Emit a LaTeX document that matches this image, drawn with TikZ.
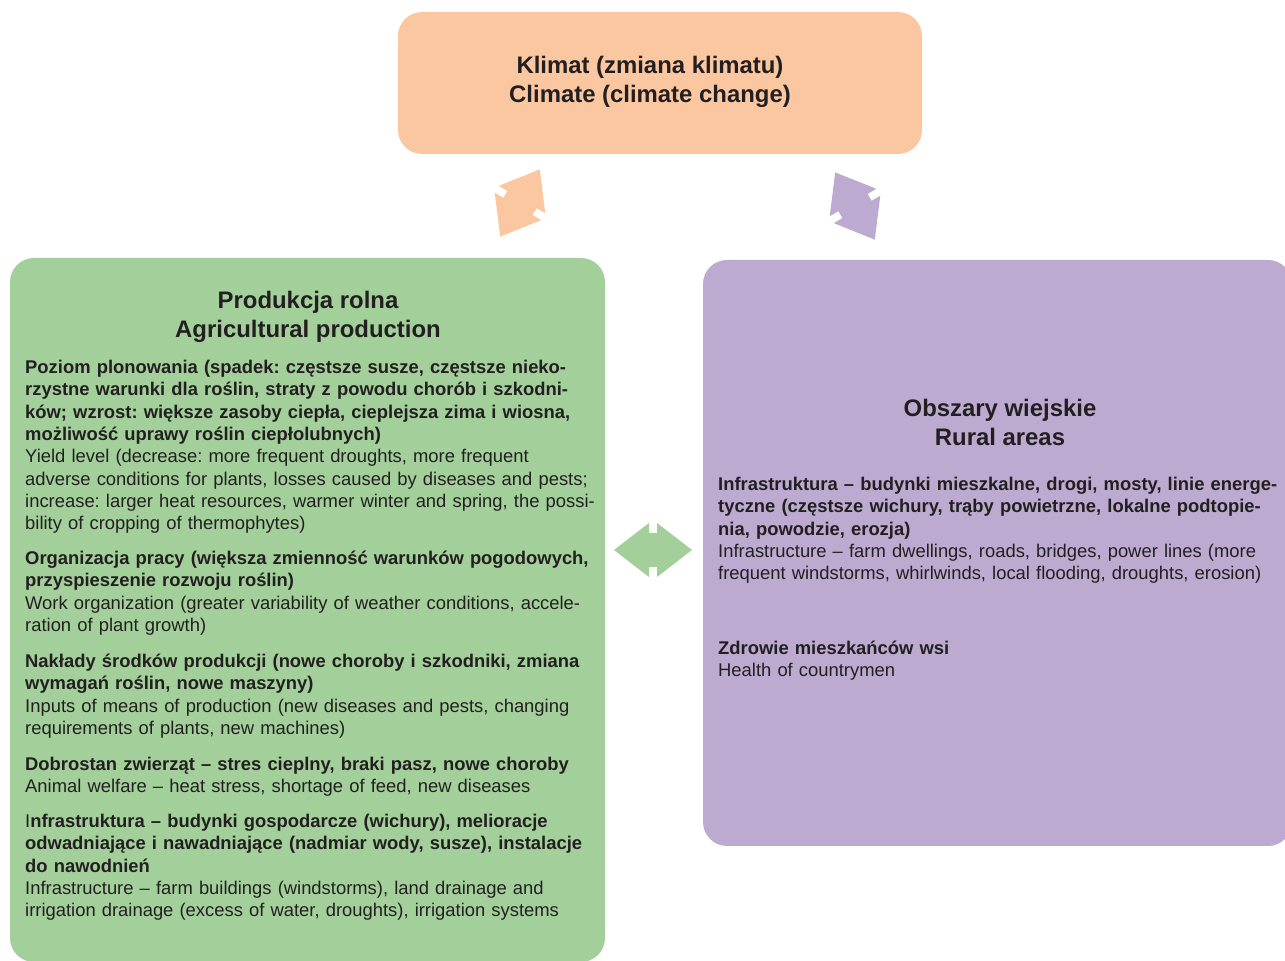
\documentclass[tikz,border=0pt]{standalone}
\usepackage{fontspec}
\setmainfont{Liberation Sans}
\usepackage{tikz}
\usetikzlibrary{positioning}
\definecolor{klimat}{RGB}{250,199,161}
\definecolor{rolna}{RGB}{163,207,155}
\definecolor{wiejskie}{RGB}{189,170,208}
\definecolor{tekst}{RGB}{35,31,32}
\frenchspacing

\tikzset{
  dwustrzalka/.pic={
    \fill (-39,0) -- (-4,27) -- (-4,17) -- (4,17) -- (4,27) -- (39,0)
      -- (4,-27) -- (4,-17) -- (-4,-17) -- (-4,-27) -- cycle;
  }
}

\begin{document}
\begin{tikzpicture}[x=1pt, y=1pt,
  box/.style={rectangle, rounded corners=24pt, inner sep=0pt},
  tytul/.style={align=center, inner sep=0pt, text=tekst,
    font=\fontsize{23.9}{28.8}\selectfont\bfseries},
  opis/.style={anchor=north west, align=left, inner sep=0pt, text=tekst,
    font=\fontsize{18.4}{22.3}\selectfont}]

\useasboundingbox (0,0) rectangle (1285,961);

% Prostokąty
\node[box, fill=klimat, minimum width=524pt, minimum height=142pt] (klimat) at (660,878) {};
\node[box, fill=rolna, minimum width=595pt, minimum height=704pt] (rolna) at (307.5,351) {};
\node[box, fill=wiejskie, minimum width=589pt, minimum height=586pt] (wiejskie) at (997.5,408) {};

% Tytuły
\node[tytul] (tklimat) at (650,879) {Klimat (zmiana klimatu)\\Climate (climate change)};
\node[tytul] (trolna) at (308,644.5) {Produkcja rolna\\Agricultural production};
\node[tytul] (twiejskie) at (1000,538.5) {Obszary wiejskie\\Rural areas};

% Produkcja rolna - opisy
\node[opis, text width=620pt] (plon) at (25,601) {{\bfseries Poziom plonowania (spadek: częstsze susze, częstsze nieko-\\rzystne warunki dla roślin, straty z powodu chorób i szkodni-\\ków; wzrost: większe zasoby ciepła, cieplejsza zima i wiosna,\\możliwość uprawy roślin ciepłolubnych)}\\Yield level (decrease: more frequent droughts, more frequent\\adverse conditions for plants, losses caused by diseases and pests;\\increase: larger heat resources, warmer winter and spring, the possi-\\bility of cropping of thermophytes)};
\node[opis, text width=620pt] (praca) at (25,410) {{\bfseries Organizacja pracy (większa zmienność warunków pogodowych,\\przyspieszenie rozwoju roślin)}\\Work organization (greater variability of weather conditions, accele-\\ration of plant growth)};
\node[opis, text width=620pt] (naklady) at (25,307) {{\bfseries Nakłady środków produkcji (nowe choroby i szkodniki, zmiana\\wymagań roślin, nowe maszyny)}\\Inputs of means of production (new diseases and pests, changing\\requirements of plants, new machines)};
\node[opis, text width=620pt] (zwierzeta) at (25,204) {{\bfseries Dobrostan zwierząt – stres cieplny, braki pasz, nowe choroby}\\Animal welfare – heat stress, shortage of feed, new diseases};
\node[opis, text width=620pt] (infra) at (25,147) {I{\bfseries nfrastruktura – budynki gospodarcze (wichury), melioracje\\odwadniające i nawadniające (nadmiar wody, susze), instalacje\\do nawodnień}\\Infrastructure – farm buildings (windstorms), land drainage and\\irrigation drainage (excess of water, droughts), irrigation systems};

% Obszary wiejskie - opisy
\node[opis, text width=570pt] (infraw) at (718,484) {{\bfseries Infrastruktura – budynki mieszkalne, drogi, mosty, linie energe-\\tyczne (częstsze wichury, trąby powietrzne, lokalne podtopie-\\nia, powodzie, erozja)}\\Infrastructure – farm dwellings, roads, bridges, power lines (more\\frequent windstorms, whirlwinds, local flooding, droughts, erosion)};
\node[opis, text width=570pt] (zdrowie) at (718,320) {{\bfseries Zdrowie mieszkańców wsi}\\Health of countrymen};

% Strzałki
\pic[fill=klimat, rotate=59.5] at (520,758) {dwustrzalka};
\pic[fill=wiejskie, rotate=-59.5] at (855,755) {dwustrzalka};
\pic[fill=rolna] at (653,411) {dwustrzalka};

\end{tikzpicture}
\end{document}
